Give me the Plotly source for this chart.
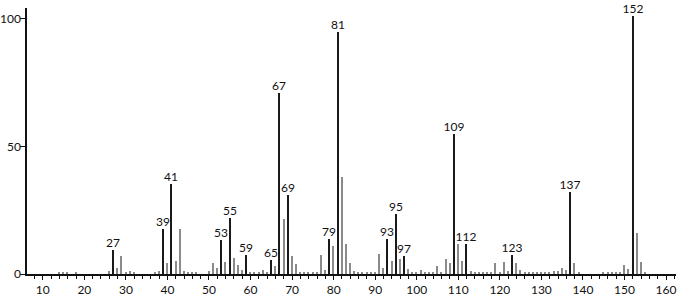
import plotly.graph_objects as go

mz = [14, 15, 16, 18, 26, 27, 28, 29, 30, 31, 32, 37, 38, 39, 40, 41, 42, 43, 44, 45, 46, 47, 50, 51, 52, 53, 54, 55, 56, 57, 58, 59, 60, 61, 62, 63, 64, 65, 66, 67, 68, 69, 70, 71, 72, 73, 74, 75, 76, 77, 78, 79, 80, 81, 82, 83, 84, 85, 86, 87, 88, 89, 90, 91, 92, 93, 94, 95, 96, 97, 98, 99, 100, 101, 102, 103, 104, 105, 106, 107, 108, 109, 110, 111, 112, 113, 114, 115, 116, 117, 118, 119, 120, 121, 122, 123, 124, 125, 126, 127, 128, 129, 130, 131, 132, 133, 134, 135, 136, 137, 138, 139, 145, 146, 147, 148, 149, 150, 151, 152, 153, 154, 155]
intensity = [0.4, 0.8, 0.4, 0.4, 1.0, 9.4, 2.2, 7.0, 0.5, 1.3, 0.6, 0.6, 1.2, 17.5, 4.2, 35.3, 5.2, 17.5, 1.2, 0.8, 0.6, 0.5, 1.0, 4.2, 2.2, 13.3, 4.8, 22.0, 6.2, 3.5, 1.6, 7.5, 0.5, 0.5, 0.5, 1.6, 0.5, 5.5, 3.1, 71.0, 21.6, 31.0, 7.0, 3.9, 0.6, 0.5, 0.5, 0.6, 0.5, 7.5, 1.6, 13.9, 11.0, 95.0, 38.0, 11.8, 4.2, 1.2, 0.6, 0.5, 0.4, 0.6, 0.5, 7.8, 2.2, 13.7, 5.1, 23.5, 5.9, 6.9, 2.0, 0.5, 0.6, 1.5, 0.6, 0.6, 0.5, 3.1, 0.6, 5.7, 4.4, 55.0, 11.8, 5.1, 11.8, 1.2, 0.6, 0.6, 0.6, 0.6, 0.5, 4.2, 0.6, 4.8, 1.3, 7.3, 4.2, 1.6, 0.5, 0.5, 0.6, 0.5, 0.5, 0.6, 0.6, 1.0, 1.2, 2.2, 1.6, 32.3, 4.4, 0.6, 0.5, 0.6, 0.6, 0.8, 0.6, 3.5, 2.0, 101.0, 16.2, 4.7, 0.6]
labeled = [27, 39, 41, 53, 55, 59, 65, 67, 69, 79, 81, 93, 95, 97, 109, 112, 123, 137, 152]

x_ticks = [10, 20, 30, 40, 50, 60, 70, 80, 90, 100, 110, 120, 130, 140, 150, 160]
y_ticks = [0, 50, 100]

colors = ["#1a1a1a" if m in labeled else "#8a8a8a" for m in mz]
texts = [str(m) if m in labeled else "" for m in mz]

FONT = "Lato, 'DejaVu Sans', sans-serif"

fig = go.Figure()
fig.add_trace(go.Bar(
    x=mz, y=intensity, width=0.36,
    marker=dict(color=colors, line=dict(width=0)),
    text=texts, textposition="outside", cliponaxis=False,
    constraintext="none", textangle=0,
    textfont=dict(family=FONT, size=12, color="#111111"),
    hoverinfo="x+y",
))

fig.update_layout(
    width=680, height=296,
    margin=dict(l=27, r=4, t=8, b=22, autoexpand=False),
    paper_bgcolor="white", plot_bgcolor="white",
    showlegend=False, bargap=0,
    font=dict(family=FONT, size=12, color="#111111"),
)
fig.update_xaxes(
    range=[6.2, 162.4], showgrid=False, zeroline=False, automargin=False,
    showline=True, linecolor="#111111", linewidth=1.5,
    tickmode="array", tickvals=x_ticks, ticktext=[str(t) for t in x_ticks],
    ticks="outside", ticklen=4, tickcolor="#111111", tickwidth=1,
    minor=dict(dtick=2, tick0=0, ticks="outside", ticklen=3, tickcolor="#111111", tickwidth=1),
    tickfont=dict(family=FONT, size=12, color="#111111"),
)
fig.update_yaxes(
    range=[0, 104.3], showgrid=False, zeroline=False, automargin=False,
    showline=True, linecolor="#111111", linewidth=1.5,
    tickmode="array", tickvals=y_ticks, ticktext=[str(t) for t in y_ticks],
    ticks="outside", ticklen=5, tickcolor="#111111", tickwidth=1,
    ticklabelstandoff=-3,
    tickfont=dict(family=FONT, size=12, color="#111111"),
)

fig.write_html("out.html")
